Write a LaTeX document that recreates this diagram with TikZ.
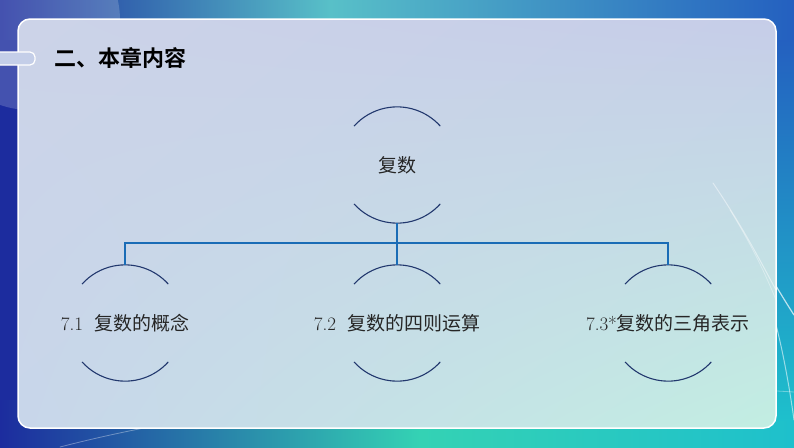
\documentclass[tikz,border=0pt]{standalone}
\usepackage{fontspec}
\usetikzlibrary{shadings}
\newfontfamily\cjk{Noto Sans CJK SC}
\newfontfamily\cjkbold{Noto Sans CJK SC Bold}
\newcommand\secno[1]{{\rmfamily #1}\hspace{11pt}}
\definecolor{framedeep}{HTML}{1C2C9E}
\definecolor{frameteal}{HTML}{58C0C8}
\definecolor{framepurple}{HTML}{4C5CC0}
\definecolor{frameright}{HTML}{2460C0}
\definecolor{framemint}{HTML}{34D2B4}
\definecolor{framecyan}{HTML}{1EC0CC}
\definecolor{frameside}{HTML}{2058B8}
\definecolor{panelul}{HTML}{CCD3E8}
\definecolor{panelur}{HTML}{C6CDE8}
\definecolor{panelll}{HTML}{C8D6EA}
\definecolor{panellr}{HTML}{C2EEE2}
\definecolor{tabfill}{HTML}{C4CEE8}
\definecolor{linkblue}{HTML}{1A6CB6}
\definecolor{arcnavy}{HTML}{22386E}
\tikzset{
  ring/.style={circle, minimum size=116pt, inner sep=0pt},
  topic/.style={inner sep=0pt, font=\cjk\fontsize{19pt}{19pt}\selectfont, text=black!85},
  halfarc/.style={arcnavy, line width=1.1pt},
  link/.style={linkblue, line width=2pt},
  gleam/.style={white, line cap=round}
}
\begin{document}
\begin{tikzpicture}[x=1pt, y=-1pt]
        \useasboundingbox (0,0) rectangle (794,447);
        % frame
        \fill[frameside] (0,0) rectangle (794,447);
        \shade[left color=framedeep, right color=frameteal] (0,0) rectangle (330,60);
        \shade[left color=frameteal, middle color=framepurple, right color=frameright] (330,0) rectangle (794,60);
        \shade[top color=framedeep, middle color=frameside, bottom color=framedeep] (0,40) rectangle (18,447);
        \shade[left color=framedeep, right color=framemint] (0,400) rectangle (420,447);
        \shade[left color=framemint, right color=framecyan] (420,400) rectangle (794,447);
        \shade[top color=frameright, bottom color=framecyan] (776,40) rectangle (794,420);
        \fill[white, opacity=0.18] (30,20) circle (90);
        \draw[gleam, opacity=0.7, line width=1.2pt] (713,183) .. controls (745,230) and (765,270) .. (794,315);
        \draw[gleam, opacity=0.55, line width=1pt] (730,210) .. controls (760,260) and (780,320) .. (794,420);
        \draw[gleam, opacity=0.35, line width=0.8pt] (60,447) .. controls (300,385) and (600,380) .. (794,392);
        % panel
        \shade[upper left=panelul, upper right=panelur, lower left=panelll, lower right=panellr,
               rounded corners=12pt] (18,19) rectangle (776,428);
        \draw[gleam, opacity=0.45, line width=1pt] (713,183) .. controls (745,230) and (765,270) .. (776,290);
        \draw[gleam, opacity=0.35, line width=0.8pt] (730,210) .. controls (755,250) and (770,285) .. (776,300);
        \draw[white, line width=1.5pt, rounded corners=12pt] (18,19) rectangle (776,428);
        \draw[white, fill=tabfill, line width=1.2pt, rounded corners=5pt] (-6,52) rectangle (35,65);

        % title
        \node[anchor=west, font=\cjkbold\fontsize{22pt}{22pt}\selectfont] (title) at (51,58) {二、本章内容};

        % topics
        \node[ring] (top) at (397,165) {};
        \node[ring] (c1) at (125,323) {};
        \node[ring] (c2) at (397,323) {};
        \node[ring] (c3) at (668,323) {};
        \node[topic] (ttop) at (top) {复数};
        \node[topic] (t1) at (c1) {\secno{7.1}复数的概念};
        \node[topic] (t2) at (c2) {\secno{7.2}复数的四则运算};
        \node[topic] (t3) at (c3) {{\rmfamily 7.3*}复数的三角表示};

        \foreach \n in {top, c1, c2, c3} {
          \draw[halfarc] (\n.42) arc[start angle=42, end angle=138, radius=58pt];
          \draw[halfarc] (\n.-42) arc[start angle=-42, end angle=-138, radius=58pt];
        }

        % connectors
        \coordinate (hub) at (397,243);
        \draw[link] (top.south) -- (hub);
        \draw[link] (hub) -| (c1.north);
        \draw[link] (hub) -| (c3.north);
        \draw[link] (hub) -- (c2.north);
\end{tikzpicture}
\end{document}
